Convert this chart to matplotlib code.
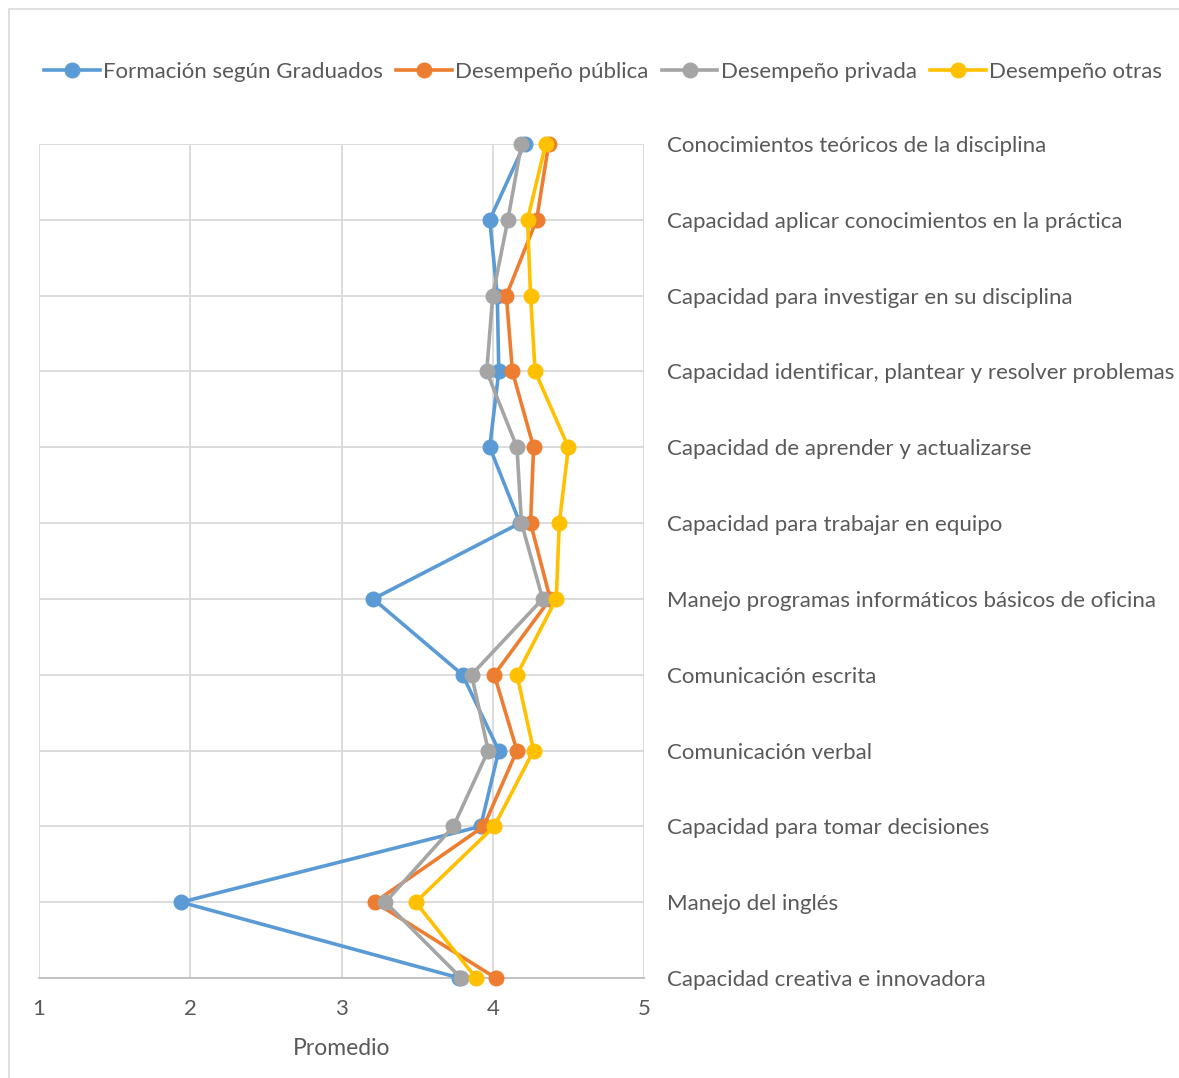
import matplotlib
matplotlib.use("Agg")
import matplotlib.pyplot as plt
from matplotlib.lines import Line2D
from matplotlib.patches import Rectangle

plt.rcParams['font.family'] = ['Lato', 'DejaVu Sans']

categories = [
    "Conocimientos teóricos de la disciplina",
    "Capacidad aplicar conocimientos en la práctica",
    "Capacidad para investigar en su disciplina",
    "Capacidad identificar, plantear y resolver problemas",
    "Capacidad de aprender y actualizarse",
    "Capacidad para trabajar en equipo",
    "Manejo programas informáticos básicos de oficina",
    "Comunicación escrita",
    "Comunicación verbal",
    "Capacidad para tomar decisiones",
    "Manejo del inglés",
    "Capacidad creativa e innovadora",
]

formacion_graduados = [4.21, 3.98, 4.03, 4.04, 3.98, 4.18, 3.21, 3.80, 4.04, 3.92, 1.94, 3.78]
desempeno_publica   = [4.37, 4.29, 4.09, 4.13, 4.27, 4.25, 4.38, 4.01, 4.16, 3.94, 3.22, 4.02]
desempeno_privada   = [4.19, 4.10, 4.00, 3.96, 4.16, 4.19, 4.33, 3.86, 3.97, 3.74, 3.29, 3.79]
desempeno_otras     = [4.35, 4.23, 4.25, 4.28, 4.50, 4.44, 4.42, 4.16, 4.27, 4.01, 3.49, 3.89]

series_names = ["Formación según Graduados", "Desempeño pública",
                "Desempeño privada", "Desempeño otras"]
series_values = [formacion_graduados, desempeno_publica,
                 desempeno_privada, desempeno_otras]
colors = ["#5B9BD5", "#ED7D31", "#A5A5A5", "#FFC000"]

x_ticks = [1, 2, 3, 4, 5]

W, H = 1179, 1078
fig = plt.figure(figsize=(W / 100, H / 100), dpi=100)
fig.patch.set_facecolor("white")

# light chart-area frame
fig.patches.append(Rectangle((9 / W, -0.1), 1.2, 1 - 9 / H + 0.1,
                             transform=fig.transFigure, fill=False,
                             edgecolor="#D9D9D9", linewidth=1.2))

ax = fig.add_axes([39 / W, 1 - 978 / H, (644 - 39) / W, (978 - 144) / H])

positions = list(range(len(categories)))
for name, vals, c in zip(series_names, series_values, colors):
    ax.plot(vals, positions, color=c, linewidth=2.6, marker="o",
            markersize=10.5, label=name, solid_capstyle="round",
            solid_joinstyle="round", clip_on=False, zorder=3)

ax.set_xlim(1, 5)
ax.set_ylim(len(categories) - 1, 0)
ax.set_xticks(x_ticks)
ax.set_xticklabels([str(t) for t in x_ticks])
ax.set_yticks(positions)
ax.set_yticklabels(categories)
ax.yaxis.tick_right()

ax.grid(True, color="#D9D9D9", linewidth=1.3, zorder=0)
ax.set_axisbelow(True)
for side, sp in ax.spines.items():
    sp.set_visible(side == "bottom")
ax.spines["bottom"].set_color("#BFBFBF")
ax.spines["bottom"].set_linewidth(1.3)

ax.tick_params(axis="both", length=0, colors="#595959", labelsize=16)
ax.tick_params(axis="y", pad=16.5)
ax.tick_params(axis="x", pad=15)

ax.set_xlabel("Promedio", fontsize=16.5, color="#595959", labelpad=14)

handles = [Line2D([0], [0], color=c, linewidth=2.6, marker="o",
                  markersize=10.5) for c in colors]
fig.legend(handles, series_names, loc="center", ncol=4,
           bbox_to_anchor=(603 / W, 1 - 72 / H), frameon=False,
           fontsize=16, labelcolor="#595959", handlelength=2.5,
           handletextpad=0.15, columnspacing=0.6)

fig.savefig("out.png", dpi=100, facecolor="white")
